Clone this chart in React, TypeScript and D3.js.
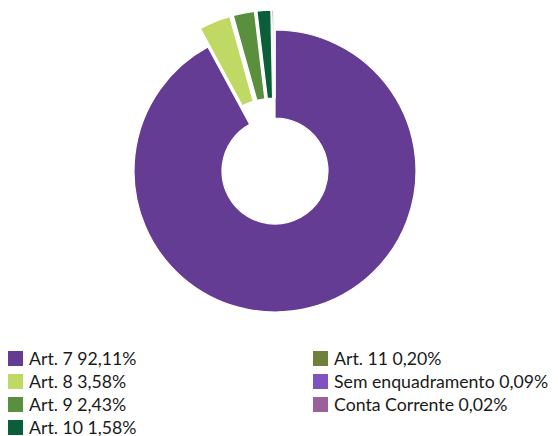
import { useRef, useEffect } from "react";
import * as d3 from "d3";

const categories = [
  "Art. 7",
  "Art. 8",
  "Art. 9",
  "Art. 10",
  "Art. 11",
  "Sem enquadramento",
  "Conta Corrente",
];
const values = [92.11, 3.58, 2.43, 1.58, 0.2, 0.09, 0.02];
const colors = ["#653c93", "#bfd964", "#5a8f3e", "#0b5e3a", "#6f7f3c", "#7e53bf", "#9b5f9b"];
const labels = ["92,11%", "3,58%", "2,43%", "1,58%", "0,20%", "0,09%", "0,02%"];

export default function App() {
  const svgRef = useRef<SVGSVGElement>(null);

  useEffect(() => {
    const w = 558;
    const h = 436;
    const cx = 275;
    const cy = 171;
    const outer = 141;
    const inner = 53;
    const explode = 20;

    const svg = d3.select(svgRef.current).attr("width", w).attr("height", h);
    svg.selectAll("*").remove();

    const data = categories.map((name, i) => ({ name, value: values[i], i }));
    const pie = d3
      .pie<{ name: string; value: number; i: number }>()
      .sort(null)
      .value((d) => d.value);
    const arcs = pie(data);
    const arc = d3
      .arc<d3.PieArcDatum<{ name: string; value: number; i: number }>>()
      .innerRadius(inner)
      .outerRadius(outer);

    // Setting up slices
    const g = svg.append("g").attr("transform", `translate(${cx},${cy})`);
    g.selectAll("path")
      .data(arcs)
      .join("path")
      .attr("d", (d) => arc(d))
      .attr("fill", (d) => colors[d.data.i])
      .attr("stroke", "#fff")
      .attr("stroke-width", 1.2)
      .attr("transform", (d) => {
        if (d.data.i === 0) return null;
        const a = (d.startAngle + d.endAngle) / 2;
        return `translate(${Math.sin(a) * explode},${-Math.cos(a) * explode})`;
      });

    // Setting up legend
    const rows = 4;
    const legend = svg
      .selectAll("g.legend")
      .data(data)
      .join("g")
      .attr("class", "legend")
      .attr("transform", (d) => {
        const col = Math.floor(d.i / rows);
        const row = d.i % rows;
        return `translate(${col === 0 ? 8 : 313},${351 + row * 23})`;
      });
    legend
      .append("rect")
      .attr("width", 15)
      .attr("height", 15)
      .attr("fill", (d) => colors[d.i]);
    legend
      .append("text")
      .attr("x", 21)
      .attr("y", 14)
      .style("font-family", "Lato, sans-serif")
      .style("font-size", "17.7px")
      .attr("fill", "#1a1a1a")
      .text((d) => `${d.name} ${labels[d.i]}`);
  }, []);

  return <svg ref={svgRef} style={{ position: "absolute", left: 0, top: 0 }}></svg>;
}
